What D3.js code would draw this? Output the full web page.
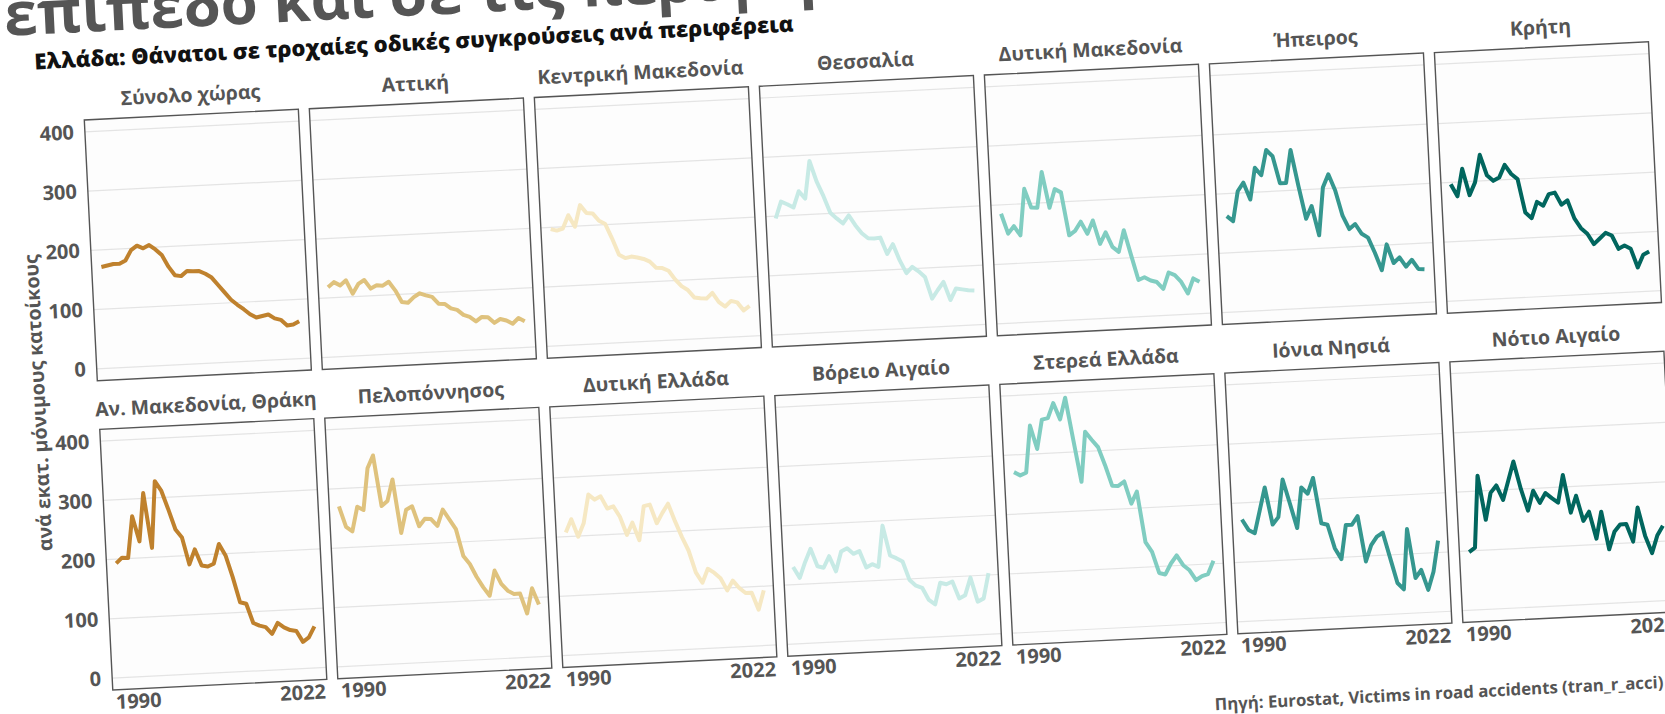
<!DOCTYPE html>
<html><head><meta charset="utf-8">
<script src="https://cdn.jsdelivr.net/npm/d3@7"></script>
<style>body{margin:0;background:#fff;overflow:hidden} svg{display:block}</style>
</head><body>
<svg id="c" width="1665" height="714"></svg>
<script>
const years = [1990,1991,1992,1993,1994,1995,1996,1997,1998,1999,2000,2001,2002,2003,2004,2005,2006,2007,2008,2009,2010,2011,2012,2013,2014,2015,2016,2017,2018,2019,2020,2021,2022];
const regionNames = ["Σύνολο χώρας","Αττική","Κεντρική Μακεδονία","Θεσσαλία","Δυτική Μακεδονία","Ήπειρος","Κρήτη",
  "Αν. Μακεδονία, Θράκη","Πελοπόννησος","Δυτική Ελλάδα","Βόρειο Αιγαίο","Στερεά Ελλάδα","Ιόνια Νησιά","Νότιο Αιγαίο"];
const columnColors = ["#bf812d","#dfc27d","#f6e8c3","#c7eae5","#80cdc1","#35978f","#01665e"];
const yTicks = [0,100,200,300,400];
const xTicks = [1990,2022];

const synolo = [171,173,175,175,180,197,204,199,204,196,186,166,151,149,157,156,156,151,144,131,118,105,96,88,79,73,75,77,70,67,57,58,63];
const attiki = [118,126,120,128,105,121,127,112,117,116,122,107,87,85,94,100,96,93,81,80,72,69,60,56,48,55,54,44,50,47,41,50,44];
const kentrMak = [197,194,197,219,199,235,221,220,207,201,176,148,142,144,142,139,134,123,122,117,102,90,83,70,68,67,76,60,52,61,58,44,51];
const thessalia = [196,224,219,213,240,227,290,255,230,201,191,182,195,178,164,155,154,155,127,143,115,93,103,95,85,48,62,75,44,63,61,59,58];
const dytMak = [185,151,163,147,225,193,192,252,191,222,216,143,150,165,144,166,126,145,120,111,147,104,62,66,60,57,45,72,67,55,35,60,54];
const ipeiros = [162,153,203,217,188,241,228,270,259,213,213,268,207,151,172,122,202,224,196,153,130,138,121,114,88,58,101,69,78,62,73,57,56];
const kriti = [197,176,222,177,198,244,209,199,204,225,209,200,143,133,160,153,172,174,153,160,129,112,102,84,93,102,97,74,79,73,41,62,67];
const anMakThraki = [193,202,201,271,228,309,216,328,311,279,245,231,185,210,182,180,184,217,197,160,117,114,81,76,73,61,79,71,66,64,45,52,70];
const peloponnisos = [270,235,227,268,262,332,353,267,275,311,220,259,264,230,242,241,229,256,239,222,176,162,140,122,107,149,126,114,108,108,74,116,88];
const dytEllada = [207,229,199,221,269,260,265,244,247,229,198,218,188,245,247,215,232,247,217,190,166,129,111,134,127,117,96,112,99,90,90,61,93];
const vorAigaio = [130,111,137,159,129,126,145,119,152,157,147,151,123,128,123,192,141,136,130,98,88,84,63,55,91,88,92,63,68,97,56,61,103];
const stereaEll = [271,265,269,348,308,357,359,384,356,392,320,249,333,319,306,275,240,239,246,208,228,142,125,89,86,104,117,100,91,74,80,83,105];
const ioniaNisia = [172,154,148,186,224,161,173,236,195,153,221,210,236,159,156,116,97,154,154,168,91,118,132,138,95,52,41,142,59,72,38,68,120];
const notioAigaio = [98,105,226,151,196,208,183,215,247,200,163,196,175,191,182,174,220,156,184,141,156,110,155,91,120,132,132,102,159,111,81,110,126];

const seriesList = [synolo,attiki,kentrMak,thessalia,dytMak,ipeiros,kriti,anMakThraki,peloponnisos,dytEllada,vorAigaio,stereaEll,ioniaNisia,notioAigaio];

const FONT = "'Open Sans', 'Noto Sans', sans-serif";
const W = 214.3, H = 261, colPitch = 225.3, rowPitch = 309.7;
const x = d3.scaleLinear().domain([1988.4, 2023.6]).range([0, W]);
const y = d3.scaleLinear().domain([-20, 420]).range([H, 0]);

const svg = d3.select("#c");
svg.append("rect").attr("width",1665).attr("height",714).attr("fill","#fff");
const root = svg.append("g").attr("transform","translate(84.3,120) rotate(-2.86)");

// big title (cut at the top) and subtitle
root.append("text").attr("x",-75).attr("y",-88)
  .attr("font-family",FONT).attr("font-weight",700).attr("font-size",60).attr("fill","#555")
  .text("επίπεδο και σε τις περιφέρειες");
root.append("text").attr("x",-47).attr("y",-53)
  .attr("font-family",FONT).attr("font-weight",800).attr("font-size",22).attr("fill","#111")
  .text("Ελλάδα: Θάνατοι σε τροχαίες οδικές συγκρούσεις ανά περιφέρεια");

const line = d3.line().x((d,j)=>x(years[j])).y(d=>y(d));

regionNames.forEach((name,i)=>{
  const col = i % 7, row = Math.floor(i/7);
  const g = root.append("g").attr("transform",`translate(${col*colPitch},${row*rowPitch})`);
  g.append("rect").attr("width",W).attr("height",H).attr("fill","#fdfdfd");
  g.selectAll("line.grid").data(yTicks).join("line").attr("class","grid")
    .attr("x1",0).attr("x2",W).attr("y1",d=>y(d)).attr("y2",d=>y(d))
    .attr("stroke","#e4e4e4").attr("stroke-width",1.2);
  g.append("path").datum(seriesList[i]).attr("d",line)
    .attr("fill","none").attr("stroke",columnColors[col]).attr("stroke-width",4)
    .attr("stroke-linejoin","round");
  g.append("rect").attr("width",W).attr("height",H).attr("fill","none")
    .attr("stroke","#555").attr("stroke-width",1.4);
  g.append("text").attr("x",W/2).attr("y",-13).attr("text-anchor","middle")
    .attr("font-family",FONT).attr("font-weight",700).attr("font-size",19.5).attr("fill","#555")
    .text(name);
  if (col === 0) {
    const ax = g.append("g").call(d3.axisLeft(y).tickValues(yTicks).tickSize(0).tickPadding(11));
    ax.select(".domain").remove();
    ax.selectAll("text").attr("font-family",FONT).attr("font-weight",700).attr("font-size",20).attr("fill","#555");
  }
  if (row === 1) {
    const ax = g.append("g").attr("transform",`translate(0,${H})`)
      .call(d3.axisBottom(x).tickValues(xTicks).tickSize(0).tickPadding(5).tickFormat(d3.format("d")));
    ax.select(".domain").remove();
    ax.selectAll("text").attr("font-family",FONT).attr("font-weight",700).attr("font-size",20).attr("fill","#555")
      .attr("text-anchor",d=>d===1990?"start":"end")
      .attr("x",d=>d===1990? -x(1990)+2 : W - x(2022) - 2);
  }
});

// y axis title
root.append("text")
  .attr("transform",`translate(-60,${280}) rotate(-90)`)
  .attr("text-anchor","middle").attr("dy","0.35em")
  .attr("font-family",FONT).attr("font-weight",700).attr("font-size",19.5).attr("fill","#555")
  .text("ανά εκατ. μόνιμους κατοίκους");

// caption
root.append("text").attr("x",1549).attr("y",646).attr("text-anchor","end")
  .attr("font-family",FONT).attr("font-weight",700).attr("font-size",16.8).attr("fill","#555")
  .text("Πηγή: Eurostat, Victims in road accidents (tran_r_acci)");
</script>
</body></html>
